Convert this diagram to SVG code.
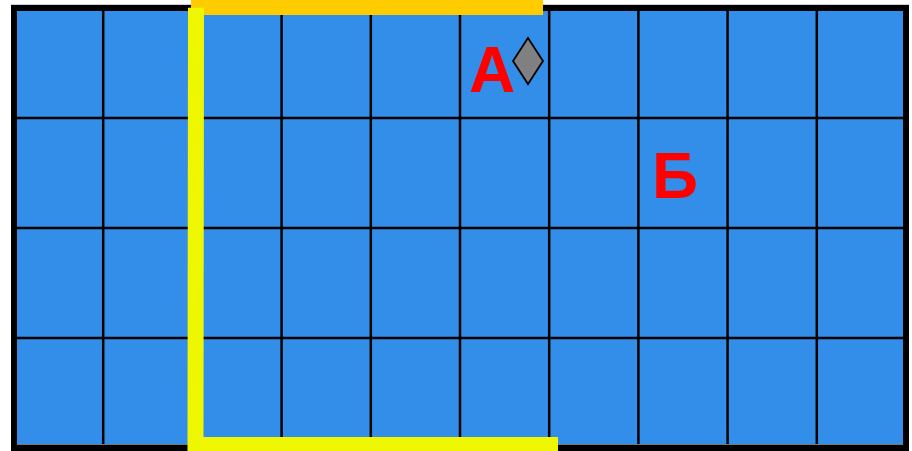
<svg xmlns="http://www.w3.org/2000/svg" width="912" height="451" viewBox="0 0 912 451">
<style>
.grid{stroke:#000;stroke-width:2.5;fill:none}
.lbl{font-family:"Liberation Sans",Arial,sans-serif;font-weight:bold;font-size:64px;fill:#FF0000;text-anchor:middle}
</style>
<rect x="0" y="0" width="912" height="451" fill="#fff"/>
<g id="board">
<line x1="11" y1="4.5" x2="909" y2="4.5" stroke="#d0d0d0" stroke-width="1"/>
<rect x="14" y="8" width="892" height="440" fill="#338EE9"/>
<g class="grid">
<line x1="103.2" y1="8" x2="103.2" y2="448"/>
<line x1="192.4" y1="8" x2="192.4" y2="448"/>
<line x1="281.6" y1="8" x2="281.6" y2="448"/>
<line x1="370.8" y1="8" x2="370.8" y2="448"/>
<line x1="460" y1="8" x2="460" y2="448"/>
<line x1="549.2" y1="8" x2="549.2" y2="448"/>
<line x1="638.4" y1="8" x2="638.4" y2="448"/>
<line x1="727.6" y1="8" x2="727.6" y2="448"/>
<line x1="816.8" y1="8" x2="816.8" y2="448"/>
<line x1="14" y1="118" x2="906" y2="118"/>
<line x1="14" y1="228" x2="906" y2="228"/>
<line x1="14" y1="338" x2="906" y2="338"/>
</g>
<line x1="17" y1="444.5" x2="903" y2="444.5" stroke="#777" stroke-width="1"/>
<rect x="14" y="8" width="892" height="440" fill="none" stroke="#000" stroke-width="6"/>
</g>
<g id="connectors">
<line x1="191" y1="7" x2="543" y2="7" stroke="#FFCC00" stroke-width="16"/>
<polyline points="196,7.7 195.5,445 558,445" fill="none" stroke="#EEF700" stroke-width="16" stroke-linejoin="miter"/>
</g>
<g id="label-A"><text class="lbl" x="492" y="92">А</text></g>
<g id="marker-diamond"><polygon points="528,38 543,61 528,84 513,61" fill="#808080" stroke="#000" stroke-width="1.8"/></g>
<g id="label-B"><text class="lbl" x="675" y="198">Б</text></g>
</svg>
